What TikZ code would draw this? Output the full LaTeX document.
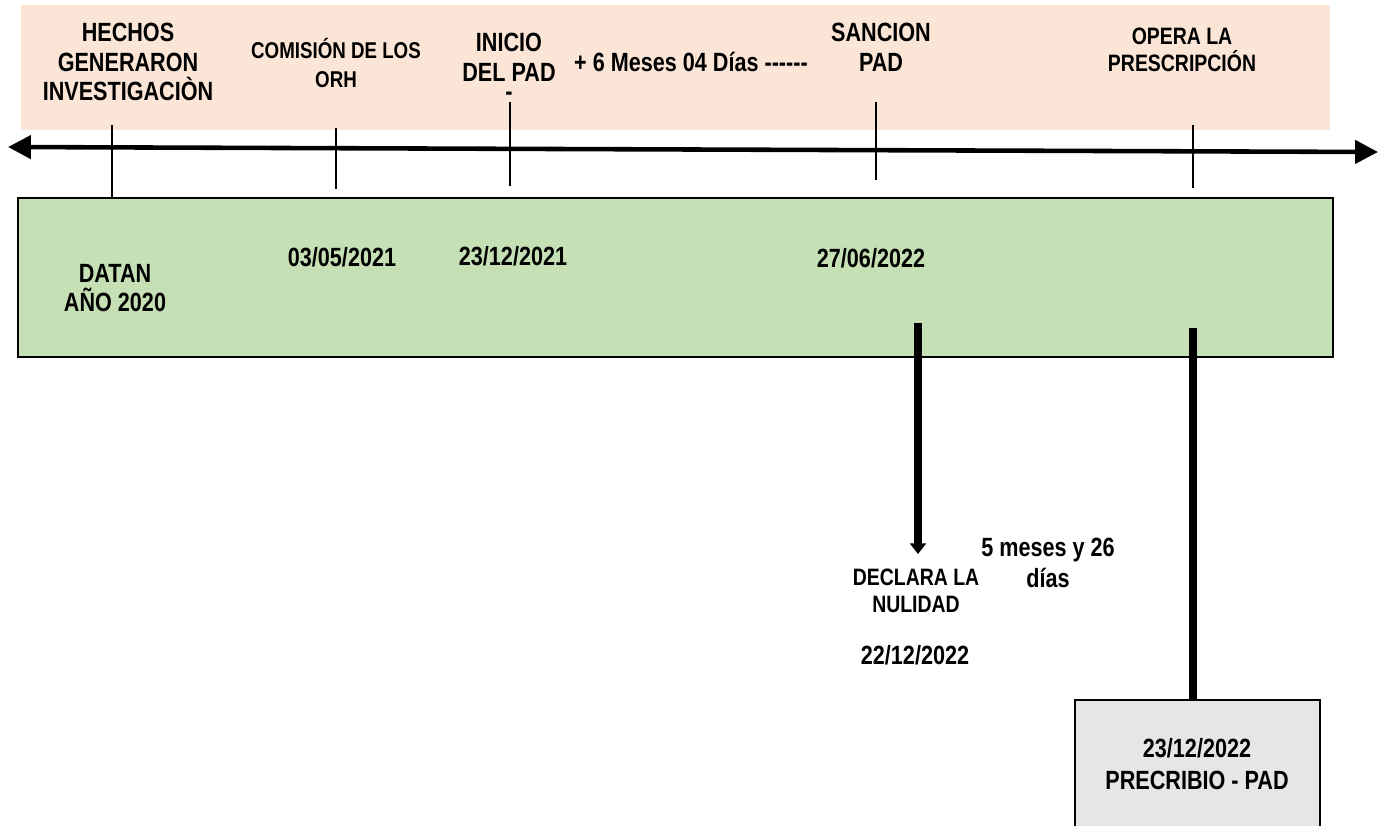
\documentclass[tikz,border=0pt]{standalone}
\usepackage{fontspec}
\setmainfont{Liberation Sans}[FakeStretch=0.82]
\usetikzlibrary{positioning, arrows.meta}

\definecolor{peach}{HTML}{FBE5D6}
\definecolor{leaf}{HTML}{C5E0B4}
\definecolor{ash}{HTML}{E6E6E6}

\begin{document}
\begin{tikzpicture}[x=0.02cm, y=-0.02cm,
    big/.style={align=center, inner sep=0pt, font=\bfseries\fontsize{15}{17}\selectfont},
    small/.style={align=center, inner sep=0pt, font=\bfseries\fontsize{13.5}{15.5}\selectfont},
    tick/.style={line width=1.4pt},
    ]
    \useasboundingbox (0,0) rectangle (1388,825);

    % bands
    \fill[peach] (21,5) rectangle (1330,130);
    \draw[fill=leaf, line width=1.1pt] (18,198) rectangle (1333,357);
    \draw[fill=ash, line width=0.6pt] (1075,826) -- (1075,700) -- (1320,700) -- (1320,826);

    % main axis
    \coordinate(tl) at (8,147);
    \coordinate(tr) at (1378,152);
    \draw[line width=2.6pt, {Triangle[length=13pt,width=13pt]}-{Triangle[length=13pt,width=13pt]}] (tl) -- (tr);

    % ticks
    \coordinate(h1) at (112,125); \coordinate(h2) at (112,198);
    \coordinate(c1) at (336,128); \coordinate(c2) at (336,189);
    \coordinate(i1) at (510,102); \coordinate(i2) at (510,186);
    \coordinate(s1) at (876,102); \coordinate(s2) at (876,180);
    \coordinate(o1) at (1193,125); \coordinate(o2) at (1193,188);
    \draw[tick] (h1) -- (h2) (c1) -- (c2) (i1) -- (i2) (s1) -- (s2) (o1) -- (o2);

    % top labels
    \node(hechos)[big] at (128,62) {HECHOS\\GENERARON\\INVESTIGACIÒN};
    \node(comision)[small, font=\bfseries\fontsize{13}{16}\selectfont] at (336,63) {COMISIÓN DE LOS\\ORH};
    \node(inicio)[big, anchor=north] at (509,32.5) {INICIO\\DEL PAD\\[-6pt]-};
    \node(meses)[big] at (691,62) {+ 6 Meses 04 Días -{}-{}-{}-{}-{}-};
    \node(sancion)[big] at (881,47) {SANCION\\PAD};
    \node(opera)[small] at (1182,50) {OPERA LA\\PRESCRIPCIÓN};

    % dates
    \node(datan)[big] at (115,288) {DATAN\\AÑO 2020};
    \node(d1)[big] at (342,257) {03/05/2021};
    \node(d2)[big] at (513,256) {23/12/2021};
    \node(d3)[big] at (871,258) {27/06/2022};

    % below
    \coordinate(n1) at (918,323);
    \coordinate(n2) at (918,554);
    \draw[line width=4.2pt, -{Triangle[length=6pt,width=9pt]}] (n1) -- (n2);
    \node(lapso)[big, font=\bfseries\fontsize{15}{18}\selectfont] at (1048,563) {5 meses y 26\\días};
    \node(nulidad)[small] at (916,591) {DECLARA LA\\NULIDAD};
    \node(d4)[big] at (915,655) {22/12/2022};

    \node(prescribio)[big, font=\bfseries\fontsize{15}{18}\selectfont] at (1197,764) {23/12/2022\\PRECRIBIO - PAD};
    \coordinate(p1) at (1193,328);
    \coordinate(p2) at (1193,700);
    \draw[line width=4.4pt] (p1) -- (p2);

\end{tikzpicture}
\end{document}
